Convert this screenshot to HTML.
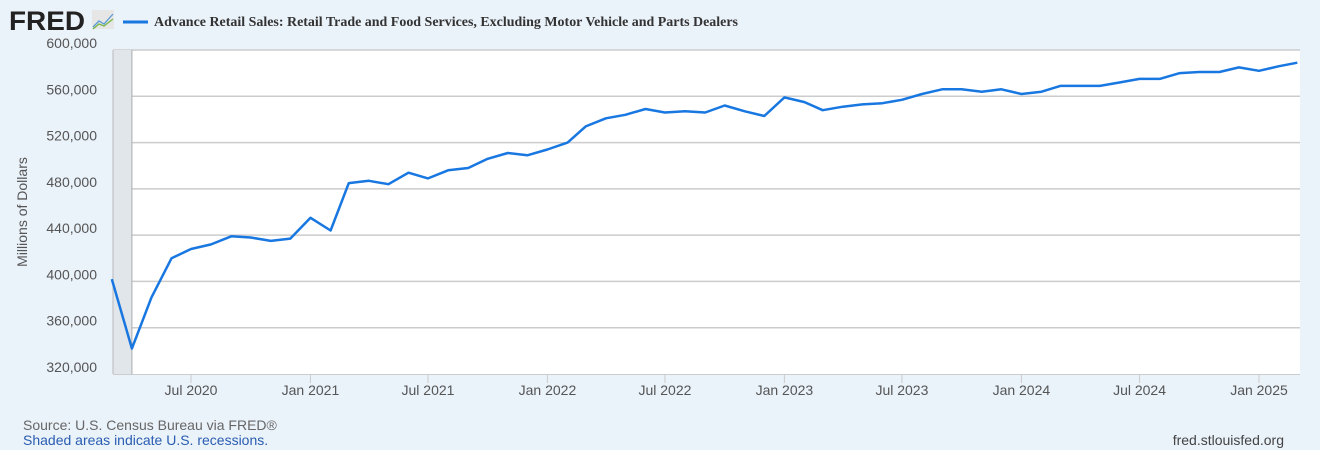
<!DOCTYPE html>
<html><head><meta charset="utf-8"><style>
body{margin:0;background:#eaf2fa;font-family:"Liberation Sans",sans-serif;}
svg{display:block}
</style></head><body>
<svg width="1320" height="450" xmlns="http://www.w3.org/2000/svg">
<rect x="0" y="0" width="1320" height="450" fill="#eaf2fa"/>
<g>
<text x="9" y="30" font-family="Liberation Sans" font-weight="bold" font-size="27" textLength="76" lengthAdjust="spacingAndGlyphs" fill="#222">FRED</text>
<rect x="92" y="10" width="22" height="19" fill="#e6e6e6"/>
<polyline points="93,27 99,21 104,24 113,14" fill="none" stroke="#5a9bd5" stroke-width="1.3"/>
<polyline points="93,29 99,24 104,26 113,19" fill="none" stroke="#7ab648" stroke-width="1.3"/>
</g>
<g>
<line x1="123" y1="22" x2="148" y2="22" stroke="#1877e0" stroke-width="3"/>
<text x="154" y="26" font-family="Liberation Serif" font-weight="bold" font-size="14" textLength="584" lengthAdjust="spacingAndGlyphs" fill="#333">Advance Retail Sales: Retail Trade and Food Services, Excluding Motor Vehicle and Parts Dealers</text>
</g>
<rect x="113" y="50" width="1187" height="324" fill="#fff"/>
<g id="grid"></g>
<g id="rec"></g>
<g id="ylab"></g>
<g id="xlab"></g>
<line x1="113" y1="50" x2="113" y2="374" stroke="#bbb"/>
<line x1="113" y1="374.5" x2="1300" y2="374.5" stroke="#ccc"/>
<g id="series"></g>
<text transform="translate(27,212) rotate(-90)" text-anchor="middle" font-size="14" fill="#555">Millions of Dollars</text>
<text x="23" y="430" font-size="14" fill="#666">Source: U.S. Census Bureau via FRED®</text>
<text x="23" y="445" font-size="14" fill="#2a5db0">Shaded areas indicate U.S. recessions.</text>
<text x="1284" y="445" text-anchor="end" font-size="14" fill="#444">fred.stlouisfed.org</text>
</svg>
<script>
const values=[402,342,386,420,428,432,439,438,435,437,455,444,485,487,484,494,489,496,498,506,511,509,514,520,534,541,544,549,546,547,546,552,547,543,559,555,548,551,553,554,557,562,566,566,564,566,562,564,569,569,569,572,575,575,580,581,581,585,582,586,589];
const startYear=2020, startMonth=2;
const yTicks=[320000,360000,400000,440000,480000,520000,560000,600000];
const xTickLabels=["Jul 2020","Jan 2021","Jul 2021","Jan 2022","Jul 2022","Jan 2023","Jul 2023","Jan 2024","Jul 2024","Jan 2025"];
const xTickDates=[[2020,6],[2021,0],[2021,6],[2022,0],[2022,6],[2023,0],[2023,6],[2024,0],[2024,6],[2025,0]];
const recession=[[2020,1],[2020,3]];
const NS="http://www.w3.org/2000/svg";
const d0=Date.UTC(2020,6,1), px0=191, pxPerDay=1068/((Date.UTC(2025,0,1)-d0)/864e5);
function xs(y,m){return px0+(Date.UTC(y,m,1)-d0)/864e5*pxPerDay;}
function ys(v){return 374-(v-320000)/280000*324;}
function mk(tag,attrs,parent){const e=document.createElementNS(NS,tag);for(const k in attrs)e.setAttribute(k,attrs[k]);document.getElementById(parent).appendChild(e);return e;}
yTicks.forEach(t=>{
 if(t>320000){const l=mk('line',{x1:113,x2:1300,y1:ys(t),y2:ys(t),stroke:'#ccc','stroke-width':1.5},'grid');
 
 }
 const tx=mk('text',{x:97,y:ys(t)-2,'text-anchor':'end','font-size':14,fill:'#555'},'ylab');
 tx.textContent=t.toLocaleString('en-US');
 
 
});
{const x1=Math.max(113,xs(...recession[0])), x2=xs(...recession[1]);
const r=mk('rect',{x:x1,y:50,width:x2-x1,height:324,fill:'#e1e6ea'},'rec');


const b=mk('line',{x1:x2,x2:x2,y1:50,y2:374,stroke:'#aaa'},'rec');

}
xTickDates.forEach((d,i)=>{const x=xs(d[0],d[1]);
 const l=mk('line',{x1:x,x2:x,y1:375,y2:383,stroke:'#ccc'},'xlab');
 
 
 const t=mk('text',{x:x,y:395,'text-anchor':'middle','font-size':14,fill:'#555'},'xlab');
 t.textContent=xTickLabels[i];
 
 
});
const pts=values.map((v,i)=>{const m=startMonth+i;return xs(startYear+Math.floor(m/12),m%12).toFixed(1)+','+ys(v*1000).toFixed(1);}).join(' ');
const pl=mk('polyline',{points:pts,fill:'none',stroke:'#1877e0','stroke-width':2.5,'stroke-linejoin':'round'},'series');


</script>
</body></html>
